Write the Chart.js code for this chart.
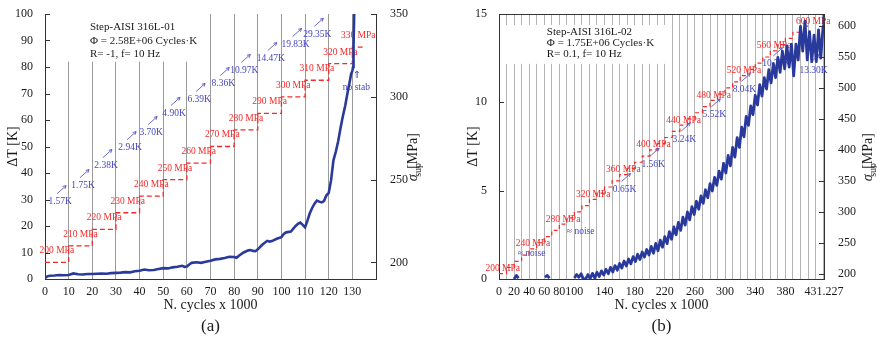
<!DOCTYPE html>
<html>
<head>
<meta charset="utf-8">
<script src="https://cdn.jsdelivr.net/npm/chart.js@4.4.1/dist/chart.umd.min.js"></script>
<style>
  html, body { margin: 0; padding: 0; background: #fff; }
  #wrap { position: relative; width: 877px; height: 341px; overflow: hidden; }
  canvas { position: absolute; top: 0; }
  #chartA { left: 0; }
  #chartB { left: 440px; }
</style>
</head>
<body>
<div id="wrap">
  <canvas id="chartA" width="440" height="341"></canvas>
  <canvas id="chartB" width="437" height="341"></canvas>
</div>
<script>
// ---------- (a) Step-AISI 316L-01 ----------
const cyclesA = [
  0, 1, 2, 4, 6, 8, 10,
  12, 14, 16, 18, 20, 22, 24, 26, 28, 30,
  32, 34, 36, 38, 40, 42, 44, 46, 48, 50,
  52, 54, 56, 58, 59, 60, 61, 62, 64, 66,
  68, 70, 72, 74, 76, 78, 80, 81, 82, 84,
  86, 87, 88, 89, 90, 92, 94, 95, 96, 98,
  100, 101, 102, 104, 106, 107, 108, 109, 110, 111,
  112, 113, 114, 115, 116, 117, 118, 119, 120, 121,
  122, 123, 124, 125, 126, 127, 128, 129, 129.5, 130,
  130.3, 130.5, 130.8
];
const deltaTA = [
  0.4, 1.0, 1.2, 1.3, 1.5, 1.4, 1.5,
  2.1, 1.8, 1.7, 1.9, 1.9, 2.0, 2.1, 2.0, 2.2, 2.3,
  2.4, 2.6, 2.5, 2.9, 3.1, 3.6, 3.3, 3.4, 3.8, 4.1,
  4.0, 4.4, 4.6, 5.0, 4.6, 4.7, 5.5, 6.1, 6.3, 6.1,
  6.5, 6.9, 7.4, 7.6, 7.9, 8.4, 8.3, 8.0, 8.8, 10.0,
  10.8, 10.9, 10.6, 10.5, 11.2, 13.0, 14.4, 14.1, 14.3, 15.2,
  15.8, 17.0, 17.6, 17.9, 20.0, 20.8, 21.3, 20.4, 19.5, 22.0,
  24.8, 26.8, 28.4, 29.6, 29.2, 28.9, 29.4, 31.5, 32.5, 37.3,
  44.8, 48.0, 52.0, 57.0, 61.5, 65.5, 70.5, 75.0, 77.5, 78.5,
  80.0, 88.0, 101
];
const stepCyclesA = [0, 10, 20, 30, 40, 50, 60, 70, 80, 90, 100, 110, 120, 130, 135];
const stressA = [200, 210, 220, 230, 240, 250, 260, 270, 280, 290, 300, 310, 320, 330, 330];
const stabLabelsA = ['1.57K', '1.75K', '2.38K', '2.94K', '3.70K', '4.90K', '6.39K',
                     '8.36K', '10.97K', '14.47K', '19.83K', '29.35K'];
const xTicksA = [0, 10, 20, 30, 40, 50, 60, 70, 80, 90, 100, 110, 120, 130];
const yTicksA = [0, 10, 20, 30, 40, 50, 60, 70, 80, 90, 100];
const y1TicksA = [200, 250, 300, 350];

// ---------- (b) Step-AISI 316L-02 ----------
const cyclesB = [
  20, 23, 26, 27, 61, 64, 67, 68, 100, 103, 106, 109, 112,
  115, 118, 121, 124, 127, 130, 133, 136, 139, 142,
  145, 148, 151, 154, 157, 160, 163, 166, 169, 172,
  175, 178, 181, 184, 187, 190, 193, 196, 199, 202,
  205, 208, 211, 214, 217, 220, 223, 226, 229, 232,
  235, 238, 241, 244, 247, 250, 253, 256, 259, 262,
  265, 268, 271, 274, 277, 280, 283, 286, 289, 292,
  295, 298, 301, 304, 307, 310, 313, 316, 319, 322,
  325, 328, 331, 334, 337, 340, 343, 346, 349, 352,
  355, 358, 361, 364, 367, 370, 373, 376, 379, 382,
  385, 388, 391, 394, 397, 400, 403, 406, 409, 412,
  415, 418, 421, 424, 427, 430, 431
];
const deltaTB = [
  0.0, 0.2, 0.05, null, 0.1, 0.2, 0.05, null, 0.05, 0.25, 0.1, 0.3, 0.0,
  0.0, 0.25, 0.02, 0.32, 0.06, 0.38, 0.14, 0.46, 0.22, 0.55,
  0.3, 0.66, 0.4, 0.76, 0.5, 0.88, 0.62, 1.02, 0.74, 1.13,
  0.86, 1.27, 0.99, 1.4, 1.1, 1.53, 1.24, 1.67, 1.36, 1.85,
  1.46, 2.02, 1.6, 2.2, 1.8, 2.4, 2.0, 2.68, 2.25, 2.95,
  2.5, 3.2, 2.75, 3.5, 3.05, 3.8, 3.35, 4.1, 3.65, 4.4,
  3.95, 4.7, 4.28, 5.05, 4.6, 5.4, 4.98, 5.75, 5.3, 6.1,
  5.65, 6.55, 6.0, 7.0, 6.4, 7.45, 6.9, 8.0, 7.45, 8.6,
  8.05, 9.2, 8.7, 9.8, 9.3, 10.4, 9.85, 11.0, 10.35, 11.4,
  10.75, 11.85, 11.1, 12.2, 11.4, 12.55, 11.7, 12.9, 11.9, 13.2,
  12.0, 13.3, 11.5, 13.3, 12.4, 14.3, 12.9, 14.6, 12.4, 14.0,
  12.3, 13.8, 12.3, 14.1, 12.5, 14.3, 15.6
];
const stepCyclesB = [0, 10, 20, 30, 40, 50, 60, 70, 80, 90, 100, 110, 120, 130, 140, 150, 160,
  170, 180, 190, 200, 210, 220, 230, 240, 250, 260, 270, 280, 290, 300, 310, 320, 330,
  340, 350, 360, 370, 380, 390, 400, 410];
const stressB = [200, 210, 220, 230, 240, 250, 260, 270, 280, 290, 300, 310, 320, 330, 340,
  350, 360, 370, 380, 390, 400, 410, 420, 430, 440, 450, 460, 470, 480, 490, 500, 510,
  520, 530, 540, 550, 560, 570, 580, 590, 600, 600];
const stabLabelsB = ['0.65K', '1.56K', '3.24K', '5.52K', '8.04K', '10.77K', '13.30K'];
const xTickLabelsB = [0, 20, 40, 60, 80, 100, 140, 180, 220, 260, 300, 340, 380, 431.227];
const xGridB = [0, 10, 20, 30, 40, 50, 60, 70, 80, 90, 100, 110, 120, 130, 140, 150, 160,
  170, 180, 190, 200, 210, 220, 230, 240, 250, 260, 270, 280, 290, 300, 310, 320, 330,
  340, 350, 360, 370, 380, 390, 400, 410, 420, 430, 431.227];
const yTicksB = [0, 5, 10, 15];
const y1TicksB = [200, 250, 300, 350, 400, 450, 500, 550, 600];

const serif = '"Liberation Serif", "Times New Roman", serif';
const RED = '#f22a2a';
const LBLUE = '#4646c0';
const DBLUE = '#2a3a9c';
const INK = '#1a1a1a';

Chart.defaults.font.family = serif;
Chart.defaults.color = INK;

function pts(xs, ys) {
  return xs.map(function (x, i) { return { x: x, y: ys[i] }; });
}

function arrow(ctx, x1, y1, x2, y2) {
  const a = Math.atan2(y2 - y1, x2 - x1);
  ctx.save();
  ctx.strokeStyle = LBLUE;
  ctx.lineWidth = 0.8;
  ctx.beginPath();
  ctx.moveTo(x1, y1);
  ctx.lineTo(x2, y2);
  [-1, 1].forEach(function (s) {
    ctx.moveTo(x2, y2);
    ctx.lineTo(x2 - 3.5 * Math.cos(a + s * 0.5), y2 - 3.5 * Math.sin(a + s * 0.5));
  });
  ctx.stroke();
  ctx.restore();
}

// rotated "σ_sup [MPa]" title, reads bottom to top
function sigmaTitle(ctx, cx, cy) {
  ctx.save();
  ctx.translate(cx, cy);
  ctx.rotate(-Math.PI / 2);
  ctx.fillStyle = INK;
  ctx.textBaseline = 'alphabetic';
  ctx.font = 'italic 14px ' + serif;
  const w1 = ctx.measureText('σ').width + 1;
  ctx.font = '10px ' + serif;
  const w2 = ctx.measureText('sup').width + 5;
  ctx.font = '14px ' + serif;
  const w3 = ctx.measureText('[MPa]').width;
  let x = -(w1 + w2 + w3) / 2;
  ctx.font = 'italic 14px ' + serif;
  ctx.fillText('σ', x, 5); x += w1;
  ctx.font = '10px ' + serif;
  ctx.fillText('sup', x, 9); x += w2;
  ctx.font = '14px ' + serif;
  ctx.fillText('[MPa]', x, 5);
  ctx.restore();
}

// draws the info box, the red/blue step labels, ticks and axis titles
const decor = {
  id: 'decor',
  beforeDatasetsDraw(chart, args, o) {
    const ctx = chart.ctx;
    const xs = chart.scales.x, ys = chart.scales.y, y1 = chart.scales.y1;
    const area = chart.chartArea;
    const b = o.box;
    const bx0 = xs.getPixelForValue(b.x0), bx1 = xs.getPixelForValue(b.x1);
    const by0 = Math.max(area.top, ys.getPixelForValue(b.y1)), by1 = ys.getPixelForValue(b.y0);
    ctx.save();
    ctx.fillStyle = '#fff';
    ctx.fillRect(bx0, by0, bx1 - bx0, by1 - by0);
    ctx.fillStyle = INK;
    ctx.font = '11px ' + serif;
    ctx.textBaseline = 'middle';
    ctx.textAlign = 'left';
    b.lines.forEach(function (t, i) {
      ctx.fillText(t, xs.getPixelForValue(b.tx), ys.getPixelForValue(b.ty[i]));
    });

    ctx.font = '9.5px ' + serif;
    ctx.textAlign = 'center';
    // red stress labels
    ctx.fillStyle = RED;
    o.red.forEach(function (r) {
      ctx.fillText(r.t, xs.getPixelForValue(r.x), y1.getPixelForValue(r.y));
    });
    // blue stabilised temperature labels with arrows
    ctx.fillStyle = LBLUE;
    o.blue.forEach(function (r) {
      const px = xs.getPixelForValue(r.x), py = y1.getPixelForValue(r.y);
      ctx.textAlign = r.align || 'center';
      ctx.fillText(r.t, px, py);
      if (r.arrow !== false) arrow(ctx, px - 3, py - 8, px + 6, py - 16);
    });
    (o.extra || []).forEach(function (r) {
      ctx.textAlign = 'center';
      ctx.font = r.font;
      ctx.fillText(r.t, xs.getPixelForValue(r.x), y1.getPixelForValue(r.y));
    });
    ctx.restore();
  },
  afterDraw(chart, args, o) {
    const ctx = chart.ctx;
    const area = chart.chartArea;
    const ys = chart.scales.y, y1 = chart.scales.y1;
    ctx.save();
    ctx.strokeStyle = '#333';
    ctx.lineWidth = 1;
    ctx.beginPath();
    ys.ticks.forEach(function (t) {
      const p = Math.round(ys.getPixelForValue(t.value)) + 0.5;
      ctx.moveTo(area.left, p); ctx.lineTo(area.left + 5, p);
    });
    y1.ticks.forEach(function (t) {
      const p = Math.round(y1.getPixelForValue(t.value)) + 0.5;
      ctx.moveTo(area.right, p); ctx.lineTo(area.right - 5, p);
    });
    if (o.topBorder) {
      ctx.moveTo(area.left, area.top + 0.5); ctx.lineTo(area.right, area.top + 0.5);
    }
    ctx.stroke();

    const cx = (area.left + area.right) / 2;
    const cy = (area.top + area.bottom) / 2;
    ctx.fillStyle = INK;
    ctx.textAlign = 'center';
    ctx.textBaseline = 'middle';
    ctx.font = '14px ' + serif;
    ctx.fillText('N. cycles x 1000', cx, 305);
    ctx.font = '17px ' + serif;
    ctx.fillText(o.panel, cx, 327);

    ctx.save();
    ctx.translate(o.leftX, cy);
    ctx.rotate(-Math.PI / 2);
    ctx.font = '14px ' + serif;
    ctx.fillText('ΔT [K]', 0, 0);
    ctx.restore();
    sigmaTitle(ctx, o.rightX, cy);
    ctx.restore();
  }
};

function baseScales(opts) {
  return {
    x: {
      type: 'linear',
      min: opts.xmin, max: opts.xmax,
      afterBuildTicks: function (s) { s.ticks = opts.xGrid.map(function (v) { return { value: v }; }); },
      afterFit: function (s) { s.height = 62; },
      grid: { color: opts.gridColor, lineWidth: 1, drawTicks: false },
      border: { display: true, color: '#333', width: 1 },
      ticks: {
        autoSkip: false, maxRotation: 0, minRotation: 0, padding: 6,
        font: { size: 12, family: serif }, color: INK,
        callback: function (v) { return opts.xLabels.indexOf(v) >= 0 ? String(v) : ''; }
      }
    },
    y: {
      type: 'linear', position: 'left',
      min: opts.ymin, max: opts.ymax,
      afterBuildTicks: function (s) { s.ticks = opts.yTicks.map(function (v) { return { value: v }; }); },
      afterFit: function (s) { s.width = opts.leftW; },
      grid: { display: false },
      border: { display: true, color: '#333', width: 1 },
      ticks: { padding: 4, font: { size: 12, family: serif }, color: INK }
    },
    y1: {
      type: 'linear', position: 'right',
      min: opts.y1min, max: opts.y1max,
      afterBuildTicks: function (s) { s.ticks = opts.y1Ticks.map(function (v) { return { value: v }; }); },
      afterFit: function (s) { s.width = opts.rightW; },
      grid: { display: false },
      border: { display: true, color: '#333', width: 1 },
      ticks: { padding: 6, font: { size: 12, family: serif }, color: INK }
    }
  };
}

// ---------- chart (a) ----------
const redA = stressA.slice(0, -1).map(function (s, i) {
  return { t: s + ' MPa', x: (stepCyclesA[i] + stepCyclesA[i + 1]) / 2, y: s + 7 };
});
const blueSpotsA = [[6.4, 236.7], [16.1, 246.4], [25.8, 258.5], [36, 269.3], [44.9, 278.4],
  [54.6, 290], [65.2, 298.4], [75.4, 308], [84.3, 315.9], [95.5, 323.1], [106, 331.6], [115.2, 337.7]];
const blueA = stabLabelsA.map(function (t, i) {
  return { t: t, x: blueSpotsA[i][0], y: blueSpotsA[i][1] };
});

new Chart(document.getElementById('chartA'), {
  type: 'line',
  data: {
    datasets: [
      { data: pts(cyclesA, deltaTA), yAxisID: 'y', borderColor: DBLUE, borderWidth: 2.6,
        pointRadius: 0, tension: 0 },
      { data: pts(stepCyclesA, stressA), yAxisID: 'y1', borderColor: RED, borderWidth: 1.3,
        borderDash: [5, 3], stepped: true, pointRadius: 0 }
    ]
  },
  options: {
    responsive: false, animation: false,
    layout: { padding: { top: 14, left: 0, right: 0, bottom: 0 } },
    plugins: {
      legend: { display: false }, tooltip: { enabled: false },
      decor: {
        panel: '(a)', leftX: 13, rightX: 412, topBorder: false,
        box: { x0: 7, x1: 68, y0: 82, y1: 105, tx: 19, ty: [95, 89.7, 84.8],
          lines: ['Step-AISI 316L-01', 'Φ = 2.58E+06 Cycles·K', 'R= -1, f= 10 Hz'] },
        red: redA,
        blue: blueA,
        extra: [
          { t: 'no stab', x: 131.7, y: 305.8, font: '9.5px ' + serif },
          { t: '⇑', x: 131.9, y: 313, font: '10px "DejaVu Sans", sans-serif' }
        ]
      }
    },
    scales: baseScales({
      xmin: 0, xmax: 140, xGrid: xTicksA.concat([140]), xLabels: xTicksA, gridColor: '#9a9a9a',
      ymin: 0, ymax: 100, yTicks: yTicksA, leftW: 45,
      y1min: 190, y1max: 350, y1Ticks: y1TicksA, rightW: 64
    })
  },
  plugins: [decor]
});

// ---------- chart (b) ----------
const redB = [];
stressB.slice(0, -1).forEach(function (s, i) {
  if (s % 40 !== 0) return;
  const mid = (stepCyclesB[i] + stepCyclesB[i + 1]) / 2;
  redB.push({ t: s + ' MPa', x: s === 600 ? mid + 12 : mid, y: s + 8 });
});
const blueSpotsB = [[166.6, 336], [204.5, 377], [245.8, 417.5], [285.7, 456.5], [325.6, 497.6],
  [368, 539], [417.3, 528.4]];
const blueB = stabLabelsB.map(function (t, i) {
  return { t: t, x: blueSpotsB[i][0], y: blueSpotsB[i][1] };
});
blueB.push({ t: '≈ noise', x: 24.9, y: 232.5, align: 'left', arrow: false });
blueB.push({ t: '≈ noise', x: 90, y: 268.7, align: 'left', arrow: false });

new Chart(document.getElementById('chartB'), {
  type: 'line',
  data: {
    datasets: [
      { data: pts(cyclesB, deltaTB), yAxisID: 'y', borderColor: DBLUE, borderWidth: 2.8,
        pointRadius: 0, tension: 0, spanGaps: false, borderJoinStyle: 'round' },
      { data: pts(stepCyclesB, stressB), yAxisID: 'y1', borderColor: RED, borderWidth: 1.2,
        borderDash: [4, 3], stepped: true, pointRadius: 0 }
    ]
  },
  options: {
    responsive: false, animation: false,
    layout: { padding: { top: 14, left: 0, right: 0, bottom: 0 } },
    plugins: {
      legend: { display: false }, tooltip: { enabled: false },
      decor: {
        panel: '(b)', leftX: 33.5, rightX: 427, topBorder: true,
        box: { x0: 5, x1: 224, y0: 12.18, y1: 14.38, tx: 63.5, ty: [14.0, 13.35, 12.73],
          lines: ['Step-AISI 316L-02', 'Φ = 1.75E+06 Cycles·K', 'R= 0.1, f= 10 Hz'] },
        red: redB,
        blue: blueB
      }
    },
    scales: baseScales({
      xmin: 0, xmax: 431.227, xGrid: xGridB, xLabels: xTickLabelsB, gridColor: '#b4b4b4',
      ymin: 0, ymax: 15, yTicks: yTicksB, leftW: 59,
      y1min: 191.4, y1max: 619.5, y1Ticks: y1TicksB, rightW: 53
    })
  },
  plugins: [decor]
});
</script>
</body>
</html>
